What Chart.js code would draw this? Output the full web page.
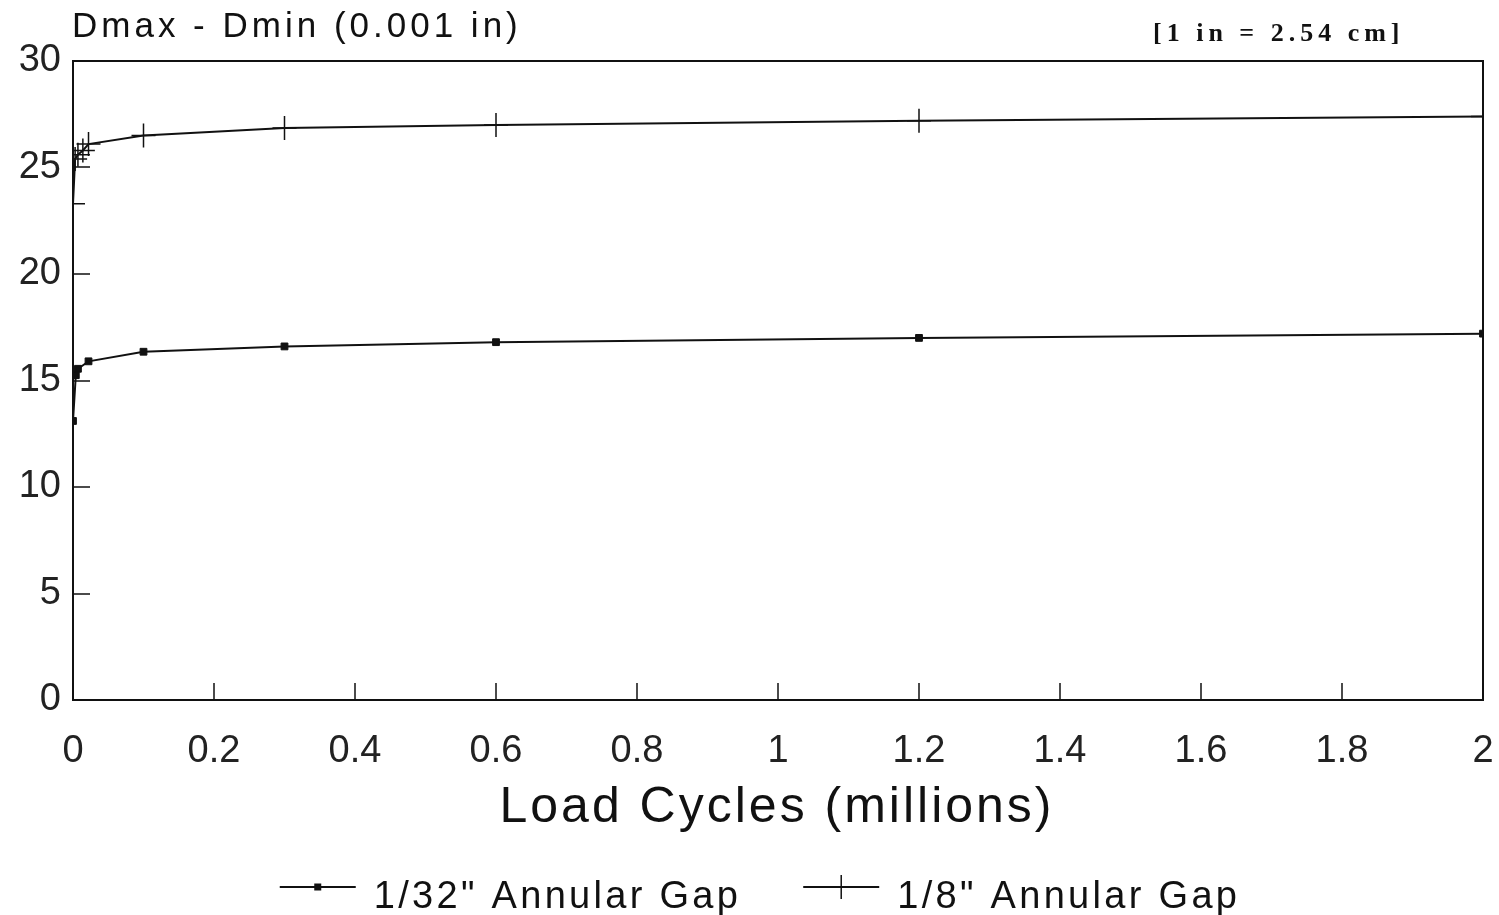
<!DOCTYPE html>
<html>
<head>
<meta charset="utf-8">
<title>Dmax - Dmin vs Load Cycles</title>
<script src="https://cdn.jsdelivr.net/npm/chart.js@4.4.0/dist/chart.umd.min.js"></script>
<style>
  html, body { margin: 0; padding: 0; background: #fff; }
</style>
</head>
<body>
<canvas id="gapChart" width="1499" height="915"></canvas>
<script>
const FONT = "'Liberation Sans', Arial, sans-serif";
const INK = '#111';

// Load cycles (millions) vs Dmax - Dmin (0.001 in)
const cycles32 = [0, 0.004, 0.007, 0.022, 0.1, 0.3, 0.6, 1.2, 2.0];
const dev32 = [13.1, 15.25, 15.55, 15.9, 16.35, 16.6, 16.8, 17.0, 17.2];
const cycles8 = [0, 0.003, 0.007, 0.014, 0.022, 0.1, 0.3, 0.6, 1.2, 2.0];
const dev8 = [23.3, 25.4, 25.6, 25.8, 26.1, 26.5, 26.85, 27.0, 27.2, 27.4];

const seriesNames = ['1/32" Annular Gap', '1/8" Annular Gap'];
const xTicks = [0, 0.2, 0.4, 0.6, 0.8, 1, 1.2, 1.4, 1.6, 1.8, 2];
const yTicks = [0, 5, 10, 15, 20, 25, 30];
const yTitle = 'Dmax - Dmin (0.001 in)';
const xTitle = 'Load Cycles (millions)';
const unitNote = '[1 in = 2.54 cm]';

function toPoints(xs, ys) {
    return xs.map((x, i) => ({ x: x, y: ys[i] }));
}

// draw a legend symbol: short line with the series marker in the middle
function drawSymbol(ctx, kind, x0, x1, y) {
    ctx.beginPath();
    ctx.moveTo(x0, y);
    ctx.lineTo(x1, y);
    ctx.lineWidth = 2;
    ctx.stroke();
    const cx = (x0 + x1) / 2;
    if (kind === 'rect') {
        ctx.fillRect(cx - 3.5, y - 3.5, 7, 7);
    } else {
        ctx.beginPath();
        ctx.moveTo(cx, y - 12);
        ctx.lineTo(cx, y + 12);
        ctx.lineWidth = 1.5;
        ctx.stroke();
    }
}

const decorPlugin = {
    id: 'decor',
    afterDraw(chart) {
        const ctx = chart.ctx;
        const a = chart.chartArea;
        const x = chart.scales.x;
        const y = chart.scales.y;
        ctx.save();
        ctx.strokeStyle = INK;
        ctx.fillStyle = INK;

        // frame
        ctx.lineWidth = 2;
        ctx.strokeRect(a.left, a.top, a.right - a.left, a.bottom - a.top);

        // inward tick marks
        ctx.beginPath();
        x.ticks.forEach(t => {
            const px = Math.round(x.getPixelForValue(t.value));
            ctx.moveTo(px, a.bottom);
            ctx.lineTo(px, a.bottom - 17);
        });
        y.ticks.forEach(t => {
            const py = Math.round(y.getPixelForValue(t.value));
            ctx.moveTo(a.left, py);
            ctx.lineTo(a.left + 17, py);
        });
        ctx.lineWidth = 1.5;
        ctx.stroke();

        // y title at top left, unit note at top right
        ctx.textBaseline = 'alphabetic';
        ctx.textAlign = 'left';
        ctx.letterSpacing = '4px';
        ctx.font = '35px ' + FONT;
        ctx.fillText(yTitle, 72, 37);

        ctx.letterSpacing = '5px';
        ctx.font = 'bold 26px "Liberation Serif", serif';
        ctx.fillText(unitNote, 1153, 41);

        // x title
        ctx.textAlign = 'center';
        ctx.letterSpacing = '3px';
        ctx.font = '50px ' + FONT;
        ctx.fillText(xTitle, 777, 822);

        // legend
        ctx.textAlign = 'left';
        ctx.font = '38px ' + FONT;
        ctx.letterSpacing = '3.3px';
        const kinds = ['rect', 'cross'];
        const symW = 76, gap = 18, itemGap = 62;
        const widths = seriesNames.map(s => ctx.measureText(s).width);
        let total = 0;
        widths.forEach((w, i) => { total += symW + gap + w + (i ? itemGap : 0); });
        let lx = 760 - total / 2;
        seriesNames.forEach((name, i) => {
            if (i) lx += itemGap;
            drawSymbol(ctx, kinds[i], lx, lx + symW, 887);
            lx += symW + gap;
            ctx.fillText(name, lx, 908);
            lx += widths[i];
        });
        ctx.restore();
    }
};

const ctx = document.getElementById('gapChart').getContext('2d');
new Chart(ctx, {
    type: 'line',
    data: {
        datasets: [{
            label: seriesNames[0],
            data: toPoints(cycles32, dev32),
            borderColor: INK,
            borderWidth: 2,
            pointStyle: 'rect',
            pointRadius: 4.8,
            pointBackgroundColor: INK,
            pointBorderColor: INK,
            pointBorderWidth: 1,
            tension: 0
        }, {
            label: seriesNames[1],
            data: toPoints(cycles8, dev8),
            borderColor: INK,
            borderWidth: 2,
            pointStyle: 'cross',
            pointRadius: 12,
            pointBorderColor: INK,
            pointBorderWidth: 1.5,
            tension: 0
        }]
    },
    options: {
        responsive: false,
        animation: false,
        devicePixelRatio: 1,
        layout: { padding: { top: 61, right: 16, left: 0, bottom: 0 } },
        plugins: {
            legend: { display: false },
            tooltip: { enabled: false }
        },
        scales: {
            x: {
                type: 'linear',
                min: 0,
                max: 2,
                afterBuildTicks: s => { s.ticks = xTicks.map(v => ({ value: v })); },
                afterFit: s => {
                    s.height = 215;
                    s.paddingLeft = 0;
                    s.paddingRight = 0;
                },
                grid: { display: false },
                border: { display: false },
                ticks: {
                    font: { family: FONT, size: 38 },
                    color: '#222',
                    padding: 21,
                    maxRotation: 0,
                    autoSkip: false,
                    callback: v => String(v)
                }
            },
            y: {
                type: 'linear',
                min: 0,
                max: 30,
                afterBuildTicks: s => { s.ticks = yTicks.map(v => ({ value: v })); },
                afterFit: s => { s.width = 73; },
                grid: { display: false },
                border: { display: false },
                ticks: {
                    font: { family: FONT, size: 38 },
                    color: '#222',
                    padding: 4,
                    autoSkip: false,
                    callback: v => String(v)
                }
            }
        }
    },
    plugins: [decorPlugin]
});
</script>
</body>
</html>
